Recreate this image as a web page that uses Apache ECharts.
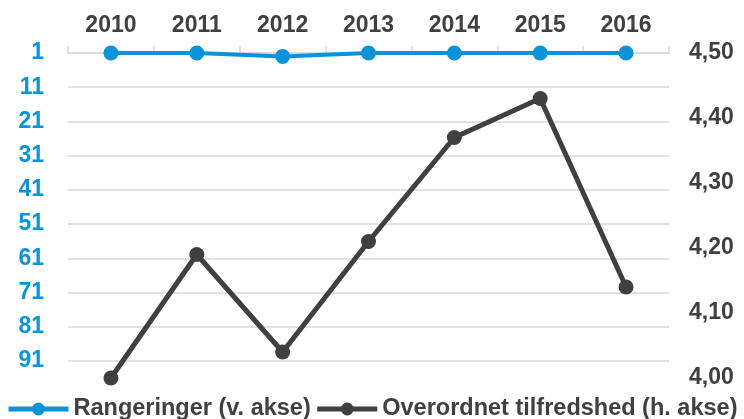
<!DOCTYPE html>
<html>
<head>
<meta charset="utf-8">
<script src="https://cdn.jsdelivr.net/npm/echarts@6/dist/echarts.min.js"></script>
<style>
  html, body { margin: 0; padding: 0; background: #fff; }
  #chart { width: 744px; height: 419px; }
</style>
</head>
<body>
<div id="chart"></div>
<script>
// data
const years = ["2010", "2011", "2012", "2013", "2014", "2015", "2016"];
const rangeringer = [1, 1, 2, 1, 1, 1, 1];
const tilfredshed = [4.00, 4.19, 4.04, 4.21, 4.37, 4.43, 4.14];
const rankTicks = [1, 96, 10];      // min, max, step (v. akse)
const scoreTicks = [4.0, 4.5, 0.1]; // min, max, step (h. akse)

const blue = "#0a93d8";
const dark = "#404040";
const font = "Liberation Sans, Arial, sans-serif";

const chart = echarts.init(document.getElementById("chart"));
chart.setOption({
  animation: false,
  grid: { left: 68, right: 75, top: 53, bottom: 41 },
  legend: {
    bottom: -2,
    left: 6,
    width: 744,
    padding: 0,
    orient: "horizontal",
    itemWidth: 60,
    itemHeight: 16,
    itemGap: 4,
    lineStyle: { width: 5 },
    textStyle: { color: dark, fontSize: 23.5, fontWeight: "bold", fontFamily: font },
    data: ["Rangeringer (v. akse)", "Overordnet tilfredshed (h. akse)"]
  },
  xAxis: {
    type: "category",
    position: "top",
    data: years,
    boundaryGap: true,
    axisLine: { lineStyle: { color: "#d9d9d9", width: 1.5 } },
    axisTick: { show: true, length: 7, lineStyle: { color: "#d9d9d9", width: 1.5 } },
    axisLabel: { color: dark, fontSize: 23, fontWeight: "bold", fontFamily: font, margin: 16 }
  },
  yAxis: [
    {
      type: "value",
      position: "left",
      inverse: true,
      min: rankTicks[0],
      max: rankTicks[1],
      interval: rankTicks[2],
      axisLine: { show: false },
      axisTick: { show: false },
      splitLine: { show: true, showMaxLine: false, lineStyle: { color: "#d9d9d9", width: 1.5 } },
      axisLabel: {
        showMaxLabel: false,
        color: blue, fontSize: 23, fontWeight: "bold", fontFamily: font, margin: 24,
        formatter: v => (v === rankTicks[1] ? "" : String(v))
      }
    },
    {
      type: "value",
      position: "right",
      min: scoreTicks[0],
      max: scoreTicks[1],
      interval: scoreTicks[2],
      axisLine: { show: false },
      axisTick: { show: false },
      splitLine: { show: false },
      axisLabel: {
        color: dark, fontSize: 23, fontWeight: "bold", fontFamily: font, margin: 20,
        formatter: v => v.toFixed(2).replace(".", ",")
      }
    }
  ],
  series: [
    {
      name: "Overordnet tilfredshed (h. akse)",
      type: "line",
      yAxisIndex: 1,
      data: tilfredshed,
      symbol: "circle",
      symbolSize: 15,
      itemStyle: { color: dark },
      lineStyle: { color: dark, width: 5 }
    },
    {
      name: "Rangeringer (v. akse)",
      type: "line",
      yAxisIndex: 0,
      data: rangeringer,
      symbol: "circle",
      symbolSize: 15,
      itemStyle: { color: blue },
      lineStyle: { color: blue, width: 4 }
    }
  ]
});
</script>
</body>
</html>
